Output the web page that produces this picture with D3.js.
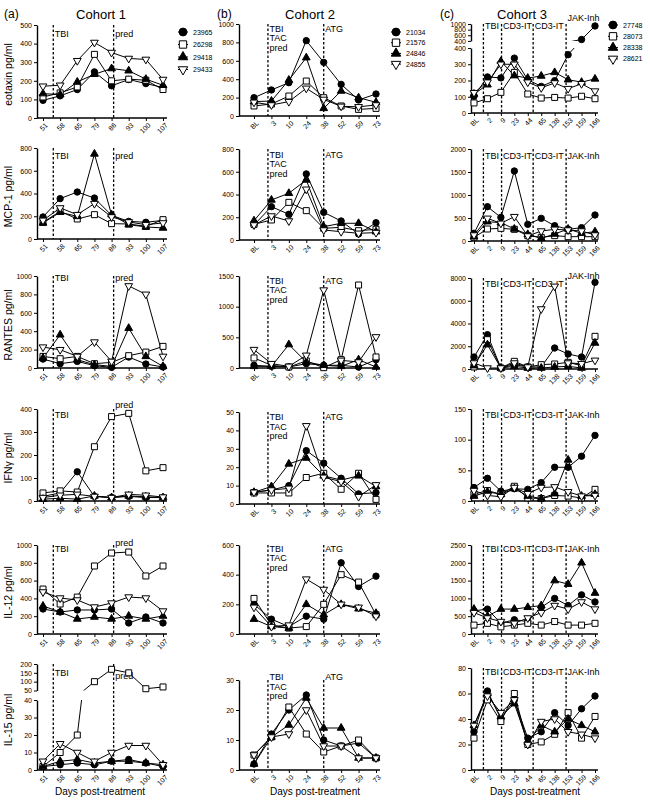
<!DOCTYPE html>
<html><head><meta charset="utf-8">
<script src="https://cdn.jsdelivr.net/npm/d3@7"></script>
<style>body{margin:0;background:#fff}text{font-family:"Liberation Sans",Arial,Helvetica,sans-serif;fill:#000}</style>
</head><body><svg id="c" width="650" height="801"></svg>
<script>
// ---------- categories ----------
const c1Days = ["51","58","65","79","86","93","100","107"];
const c2Days = ["BL","3","10","24","38","52","59","73"];
const c3Days = ["BL","2","9","23","44","65","138","153","159","166"];
const c1Ids = ["23965","26298","29418","29433"];
const c2Ids = ["21034","21576","24846","24855"];
const c3Ids = ["27748","28073","28338","28621"];
const cytokines = ["eotaxin pg/ml","MCP-1 pg/ml","RANTES pg/ml","IFN\u03b3 pg/ml","IL-12 pg/ml","IL-15 pg/ml"];
// ---------- Cohort 1 values (per animal, per day) ----------
const c1Eotaxin = [[95,119,153,248,173,207,185,164],[113,135,167,342,200,209,203,153],[131,126,194,235,266,254,209,176],[171,176,308,406,352,320,315,207]];
const c1MCP1 = [[194,355,413,360,208,155,147,164],[147,243,176,214,135,132,111,170],[141,235,199,748,214,126,106,97],[164,273,214,311,194,150,126,141]];
const c1RANTES = [[97,47,72,25,7,119,43,11],[126,101,126,47,61,134,173,235],[108,361,90,36,18,433,126,18],[227,199,126,282,72,892,801,126]];
const c1IFNg = [[20,35,127,20,15,20,15,15],[35,44,39,236,367,381,131,145],[8,12,8,22,15,22,18,15],[15,25,29,20,15,29,25,17]];
const c1IL12 = [[281,247,270,270,281,124,191,124],[505,337,415,764,910,921,652,764],[315,247,169,191,169,202,169,202],[472,404,382,303,348,415,404,258]];
const c1IL15 = [[2,3,4,3,5,6,4,2],[2,10,20,100,170,150,60,70],[2,5,6,4,5,5,4,3],[5,15,10,5,10,14,14,3]];
// ---------- Cohort 2 ----------
const c2Eotaxin = [[199,283,362,819,583,344,174,239],[109,130,217,380,199,109,72,83],[156,163,391,634,83,272,199,149],[149,120,156,301,180,105,100,120]];
const c2MCP1 = [[132,293,226,581,243,167,53,152],[138,176,331,258,103,111,82,94],[170,352,411,528,117,147,147,73],[132,211,167,446,88,73,59,65]];
const c2RANTES = [[44,27,16,71,44,44,16,136],[164,44,16,115,5,136,1353,180],[27,27,382,98,44,27,136,16],[300,71,27,207,1271,125,98,507]];
const c2IFNg = [[6.4,7.6,10,29,22.2,14,5.5,6.2],[6,6,6,14.4,16.7,8,16.7,2.5],[6.4,9.5,21.8,25,15.3,13,15.3,9.5],[6.4,7.6,8.5,42.5,14.5,12.2,4,10.4]];
const c2IL12 = [[200,100,50,120,100,480,320,390],[240,60,40,50,200,400,350,130],[100,50,40,200,130,200,170,140],[180,50,60,370,300,200,180,120]];
const c2IL15 = [[2,12,20,25,10,8,9,4],[5,11,21,12,6,8,10,4],[2,11,15,24,14,14,4,4],[5,11,12,20,8,8,4,4]];
// ---------- Cohort 3 ----------
const c3Eotaxin = [[103,222,216,338,205,164,199,359,450,930],[62,88,127,250,117,92,96,92,103,88],[117,174,318,230,215,228,250,205,190,210],[125,190,300,300,190,155,185,150,180,135]];
const c3MCP1 = [[167,746,514,1522,362,493,333,254,290,565],[80,261,275,254,116,80,116,94,94,94],[94,420,399,261,145,58,152,261,167,203],[130,493,384,529,109,217,254,239,217,130]];
const c3RANTES = [[1055,3018,88,381,176,176,1846,1319,1055,7619],[176,2579,88,674,176,381,440,586,293,2872],[293,2139,88,234,88,88,176,234,88,2286],[527,88,88,527,176,5275,7267,527,469,762]];
const c3IFNg = [[22,37,16,20,19,30,55,55,73,107],[11,17,11,24,5,4,9,8,5,19],[8,15,11,20,8,4,12,67,8,11],[17,9,7,22,12,22,23,15,8,9]];
const c3IL12 = [[650,700,300,400,350,750,1000,800,1100,900],[250,300,200,250,300,250,350,250,250,300],[700,500,700,700,750,800,1500,1400,2000,1150],[600,450,350,300,450,600,800,700,900,700]];
const c3IL15 = [[30,62,40,55,25,30,45,35,48,58],[25,55,38,60,20,22,28,45,25,42],[35,60,42,52,22,35,30,40,35,30],[35,58,45,55,20,38,40,30,28,25]];
// ---------- tick values ----------
const tEot1 = [0,100,200,300,400,500], tMCP1 = [0,200,400,600,800], tRAN1 = [0,200,400,600,800,1000], tIFN1 = [0,100,200,300,400], tIL12a = [0,200,400,600,800,1000];
const tIL15aLow = [0,10,20,30,40], tIL15aHigh = [50,100,150,200];
const tEot2 = [0,200,400,600,800,1000], tMCP2 = [0,200,400,600,800], tRAN2 = [0,500,1000,1500], tIFN2 = [0,10,20,30,40,50], tIL12b = [0,200,400,600], tIL15b = [0,10,20,30];
const tEot3Low = [0,100,200,300,400], tEot3High = [400,600,800,1000], tMCP3 = [0,500,1000,1500,2000], tRAN3 = [0,2000,4000,6000,8000], tIFN3 = [0,50,100,150], tIL12c = [0,500,1000,1500,2000,2500], tIL15c = [0,20,40,60,80];

// ---------- layout ----------
const svg = d3.select("#c");
const cols = [
  {days:c1Days, ids:c1Ids, axisX:37, x0:43, x1:163, xEnd:167, legend:{x:183, y:32, dy:12.5},
   rows:[[25,118],[148,239],[276,368],[409,501],[545,634],[664,770]],
   labY:[[12,12],[10.5,10.5],[4.5,4.5],[8.5,-1.5],[7,1],[12,15]],
   events:[{i:0.6,lab:["TBI"]},{i:4.12,lab:["pred"]}]},
  {days:c2Days, ids:c2Ids, axisX:239, x0:254, x1:376, xEnd:380, legend:{x:396, y:32, dy:10.7},
   rows:[[24,116],[149,240],[276,368],[412,504],[545,634],[680,770]],
   labY:[[7.5,7.5],[8.5,8.5],[7.5,7.5],[8,8],[6.5,6.5],[0,0]],
   events:[{i:0.8,lab:["TBI","TAC","pred"]},{i:4.0,lab:["ATG"]}]},
  {days:c3Days, ids:c3Ids, axisX:471, x0:474, x1:595, xEnd:598, legend:{x:613, y:25, dy:11.3},
   rows:[[24,113],[149,241],[278,369],[409,501],[545,634],[668,770]],
   labY:[[5,5,5,-3.5],[9.5,9.5,9.5,9.5],[9,9,9,1],[8.5,8.5,8.5,8.5],[7,7,7,7],[7,7,7,7]],
   events:[{i:0.7,lab:["TBI"]},{i:2.05,lab:["CD3-IT"]},{i:4.4,lab:["CD3-IT"]},{i:6.85,lab:["JAK-Inh"]}]}
];
const panels = [
  [c1Eotaxin,[{d:[0,500],t:tEot1}]], [c1MCP1,[{d:[0,800],t:tMCP1}]], [c1RANTES,[{d:[0,1000],t:tRAN1}]],
  [c1IFNg,[{d:[0,400],t:tIFN1}]], [c1IL12,[{d:[0,1000],t:tIL12a}]], [c1IL15,[{d:[0,40],t:tIL15aLow,f:[0,0.66]},{d:[50,200],t:tIL15aHigh,f:[0.75,1]}]],
  [c2Eotaxin,[{d:[0,1000],t:tEot2}]], [c2MCP1,[{d:[0,800],t:tMCP2}]], [c2RANTES,[{d:[0,1500],t:tRAN2}]],
  [c2IFNg,[{d:[0,50],t:tIFN2}]], [c2IL12,[{d:[0,600],t:tIL12b}]], [c2IL15,[{d:[0,30],t:tIL15b}]],
  [c3Eotaxin,[{d:[0,400],t:tEot3Low,f:[0,0.73]},{d:[400,1000],t:tEot3High,f:[0.81,1]}]], [c3MCP1,[{d:[0,2000],t:tMCP3}]], [c3RANTES,[{d:[0,8000],t:tRAN3}]],
  [c3IFNg,[{d:[0,150],t:tIFN3}]], [c3IL12,[{d:[0,2500],t:tIL12c}]], [c3IL15,[{d:[0,80],t:tIL15c}]]
];

const symTypes = [d3.symbolCircle, d3.symbolSquare, d3.symbolTriangle, d3.symbolTriangle];
const symSize = [32, 36, 26, 26];
const symFill = ["#000","#fff","#000","#fff"];
const symRot = [0,0,0,180];
let clipId = 0;

function drawPanel(ci, ri, data, segs) {
  const col = cols[ci];
  const [top, bottom] = col.rows[ri];
  const g = svg.append("g");
  const xs = d3.scalePoint().domain(col.days).range([col.x0, col.x1]);
  const xi = d3.scaleLinear().domain([0, col.days.length - 1]).range([col.x0, col.x1]);
  const H = bottom - top;
  segs.forEach(s => {
    const f = s.f || [0,1];
    s.y = d3.scaleLinear().domain(s.d).range([bottom - f[0]*H, bottom - f[1]*H]);
  });
  // y axes
  segs.forEach(s => {
    const ax = g.append("g").attr("transform", `translate(${col.axisX},0)`)
      .call(d3.axisLeft(s.y).tickValues(s.t).tickFormat(d => String(d)).tickSize(3).tickSizeOuter(0).tickPadding(2));
    ax.select(".domain").attr("stroke-width", 1.4);
    ax.selectAll(".tick line").attr("stroke-width", 1);
    ax.selectAll("text").attr("fill", "#000").style("font-size", "7px");
  });
  // x axis
  const xa = g.append("g").attr("transform", `translate(0,${bottom})`)
    .call(d3.axisBottom(xs).tickSize(3).tickSizeOuter(0));
  xa.select(".domain").attr("d", `M${col.axisX},0H${col.xEnd}`).attr("stroke-width", 1.4);
  xa.selectAll(".tick line").attr("stroke-width", 1);
  xa.selectAll("text").attr("fill", "#000").style("font-size", "7px").attr("text-anchor", "end")
    .attr("x", 0).attr("y", 0).attr("dy", "0.35em")
    .attr("transform", "translate(3,6) rotate(-45)");
  // event lines
  col.events.forEach((ev, ei) => {
    const x = xi(ev.i);
    g.append("line").attr("x1", x).attr("x2", x).attr("y1", top).attr("y2", bottom)
      .attr("stroke", "#000").attr("stroke-width", 1.3).attr("stroke-dasharray", "2.5,2");
    const off = col.labY[ri][ei];
    ev.lab.forEach((l, k) => {
      g.append("text").attr("x", x + 1.5).attr("y", top + off + k * 9.5)
        .style("font-size", "9px").text(l);
    });
  });
  // series lines (clipped per axis segment)
  data.forEach(vals => {
    segs.forEach(s => {
      const id = "clip" + (clipId++);
      const yr = s.y.range();
      g.append("clipPath").attr("id", id).append("rect")
        .attr("x", col.axisX).attr("width", col.xEnd - col.axisX + 10)
        .attr("y", Math.min(yr[0], yr[1])).attr("height", Math.abs(yr[0] - yr[1]));
      const line = d3.line().defined(v => v != null).x((v, i) => xs(col.days[i])).y(v => s.y(v));
      g.append("path").attr("clip-path", `url(#${id})`).attr("d", line(vals))
        .attr("fill", "none").attr("stroke", "#000").attr("stroke-width", 1);
    });
  });
  // markers
  data.forEach((vals, si) => {
    vals.forEach((v, i) => {
      if (v == null) return;
      let s = segs[0];
      segs.forEach(sg => { if (v >= sg.d[0]) s = sg; });
      g.append("path").attr("d", d3.symbol().type(symTypes[si]).size(symSize[si])())
        .attr("transform", `translate(${xs(col.days[i])},${s.y(Math.min(v, s.d[1]))}) rotate(${symRot[si]})`)
        .attr("fill", symFill[si]).attr("stroke", "#000").attr("stroke-width", 1);
    });
  });
}

panels.forEach((p, k) => drawPanel(Math.floor(k / 6), k % 6, p[0], p[1]));

// legends
cols.forEach(col => {
  col.ids.forEach((id, si) => {
    const y = col.legend.y + si * col.legend.dy;
    svg.append("line").attr("x1", col.legend.x - 5).attr("x2", col.legend.x + 5).attr("y1", y).attr("y2", y)
      .attr("stroke", "#000").attr("stroke-width", 1);
    svg.append("path").attr("d", d3.symbol().type(symTypes[si]).size(symSize[si] * 1.5)())
      .attr("transform", `translate(${col.legend.x},${y}) rotate(${symRot[si]})`)
      .attr("fill", symFill[si]).attr("stroke", "#000").attr("stroke-width", 1);
    svg.append("text").attr("x", col.legend.x + 10).attr("y", y + 2.5).style("font-size", "7px").text(id);
  });
});

// titles
const heads = [["(a)", 4, "Cohort 1", 101], ["(b)", 217, "Cohort 2", 310], ["(c)", 440, "Cohort 3", 522]];
heads.forEach(h => {
  svg.append("text").attr("x", h[1]).attr("y", 18).style("font-size", "12px").text(h[0]);
  svg.append("text").attr("x", h[3]).attr("y", 19).attr("text-anchor", "middle").style("font-size", "13px").text(h[2]);
});
// y titles
cytokines.forEach((c, ri) => {
  const [top, bottom] = cols[0].rows[ri];
  svg.append("text").attr("transform", `translate(12,${(top + bottom) / 2 + 3}) rotate(-90)`)
    .attr("text-anchor", "middle").style("font-size", "10.5px").text(c);
});
// x titles
[100, 315, 535].forEach(x => svg.append("text").attr("x", x).attr("y", 795).attr("text-anchor", "middle").style("font-size", "10px").text("Days post-treatment"));
</script></body></html>
